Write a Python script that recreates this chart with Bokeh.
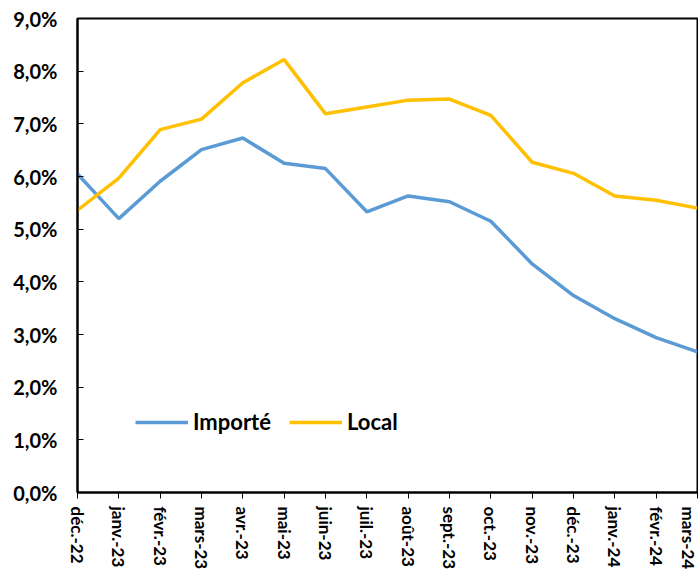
from bokeh.plotting import figure
from bokeh.models import FixedTicker, Range1d, Legend, LegendItem
from bokeh.embed import file_html
from bokeh.resources import INLINE

months = ["déc.-22", "janv.-23", "févr.-23", "mars-23", "avr.-23", "mai-23", "juin-23",
          "juil.-23", "août-23", "sept.-23", "oct.-23", "nov.-23", "déc.-23",
          "janv.-24", "févr.-24", "mars-24"]
importe = [6.05, 5.20, 5.91, 6.51, 6.73, 6.25, 6.15, 5.33, 5.63, 5.52, 5.15, 4.34, 3.74, 3.30, 2.94, 2.67]
local = [5.36, 5.97, 6.89, 7.09, 7.78, 8.22, 7.19, 7.32, 7.45, 7.47, 7.16, 6.27, 6.06, 5.63, 5.55, 5.40]
y_ticks = [0, 1, 2, 3, 4, 5, 6, 7, 8, 9]
y_labels = ["0,0%", "1,0%", "2,0%", "3,0%", "4,0%", "5,0%", "6,0%", "7,0%", "8,0%", "9,0%"]

FONT = "Lato"
xs = list(range(len(months)))

p = figure(width=698, height=572, output_backend="svg", toolbar_location=None,
           x_range=Range1d(0, len(months) - 1), y_range=Range1d(0, 9),
           min_border_left=77, min_border_right=1, min_border_top=18, min_border_bottom=77)
p.grid.visible = False
p.background_fill_color = "white"
p.border_fill_color = "white"
p.outline_line_color = "black"
p.outline_line_width = 2

r1 = p.line(xs, importe, line_color="#5B9BD5", line_width=3.5)
r2 = p.line(xs, local, line_color="#FFC000", line_width=3.5)

p.yaxis.ticker = FixedTicker(ticks=y_ticks)
p.yaxis.major_label_overrides = {t: l for t, l in zip(y_ticks, y_labels)}
p.yaxis.major_tick_in = 6
p.yaxis.major_tick_out = 0
p.yaxis.minor_tick_line_color = None
p.yaxis.axis_line_width = 2
p.yaxis.axis_line_color = "black"
p.yaxis.major_tick_line_color = "black"
p.yaxis.major_label_text_font = FONT
p.yaxis.major_label_text_font_style = "bold"
p.yaxis.major_label_text_font_size = "20px"
p.yaxis.major_label_text_color = "black"
p.yaxis.major_label_standoff = 20

p.xaxis.ticker = FixedTicker(ticks=xs)
p.xaxis.major_label_overrides = {i: m for i, m in enumerate(months)}
p.xaxis.major_label_orientation = "vertical"
p.xaxis.major_tick_in = 0
p.xaxis.major_tick_out = 6
p.xaxis.minor_tick_line_color = None
p.xaxis.axis_line_width = 2
p.xaxis.axis_line_color = "black"
p.xaxis.major_tick_line_color = "black"
p.xaxis.major_label_text_font = FONT
p.xaxis.major_label_text_font_style = "bold"
p.xaxis.major_label_text_font_size = "17px"
p.xaxis.major_label_text_color = "black"
p.xaxis.major_label_standoff = 8

legend = Legend(items=[LegendItem(label="Importé", renderers=[r1]),
                       LegendItem(label="Local", renderers=[r2])],
                location=(58, 57), orientation="horizontal",
                glyph_width=53, glyph_height=20, label_standoff=5, spacing=18,
                padding=0, margin=0, border_line_color=None, background_fill_alpha=0,
                label_text_font=FONT, label_text_font_style="bold",
                label_text_font_size="22px", label_text_color="black")
p.add_layout(legend, "center")

open("out.html", "w").write(file_html(p, INLINE))
